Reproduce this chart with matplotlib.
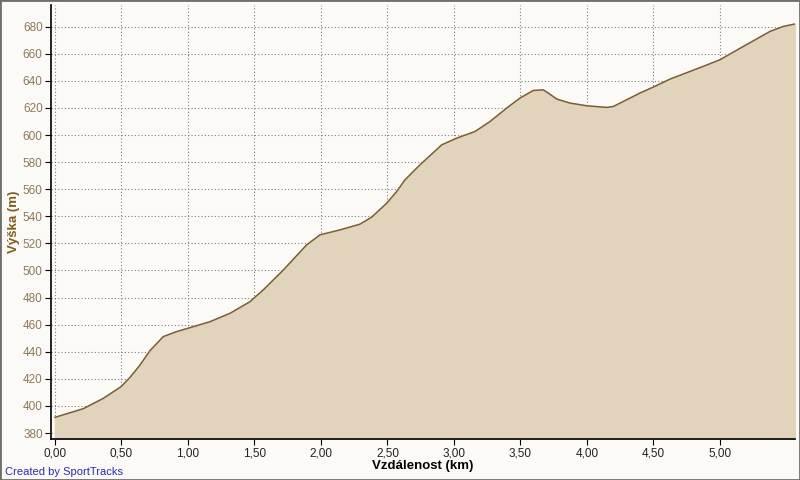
import matplotlib.pyplot as plt
import numpy as np
from matplotlib.patches import Rectangle

# elevation profile
distance_km = [0.000, 0.213, 0.363, 0.496, 0.564, 0.639, 0.714, 0.814, 0.915, 1.015,
               1.165, 1.316, 1.466, 1.566, 1.717, 1.892, 1.992, 2.143, 2.293, 2.381,
               2.494, 2.569, 2.632, 2.744, 2.908, 3.020, 3.158, 3.271, 3.396, 3.496,
               3.596, 3.671, 3.709, 3.772, 3.872, 3.998, 4.148, 4.198, 4.273, 4.398,
               4.498, 4.624, 4.874, 5.000, 5.175, 5.376, 5.476, 5.564]
elevation_m = [391.6, 398.0, 405.6, 414.2, 421.1, 430.2, 440.8, 451.2, 454.9, 457.8,
               462.2, 468.4, 477.0, 485.7, 500.4, 518.9, 526.3, 530.0, 534.2, 539.4,
               549.7, 558.3, 567.0, 578.0, 592.8, 597.7, 602.6, 610.0, 619.9, 627.3,
               632.9, 633.4, 631.0, 626.6, 623.6, 621.6, 620.4, 621.1, 624.8, 631.0,
               635.4, 641.3, 650.7, 655.6, 665.4, 676.5, 680.2, 682.0]
x_ticks = [0, 0.5, 1.0, 1.5, 2.0, 2.5, 3.0, 3.5, 4.0, 4.5, 5.0]
y_ticks = list(range(380, 700, 20))

bg = '#fbfaf6'
fig = plt.figure(figsize=(8, 4.8), dpi=100, facecolor=bg)
ax = fig.add_axes([51/800, 1 - 439/480, (795 - 51)/800, (439 - 5)/480])
ax.set_facecolor(bg)

ax.fill_between(distance_km, elevation_m, 370, color='#e2d3bc', zorder=2)
ax.plot(distance_km, elevation_m, color='#7a5e36', lw=1.1, zorder=3)

ax.set_xlim(-0.03, 5.564)
ax.set_ylim(375.6, 696)
ax.set_xticks(x_ticks)
ax.set_xticklabels(['%.2f' % t for t in x_ticks])
ax.set_xticklabels([l.get_text().replace('.', ',') for l in ax.get_xticklabels()])
ax.set_yticks(y_ticks)

ax.grid(True, color='#7f7f7f', linestyle=(0, (1, 2)), lw=0.8, zorder=4)
for s in ['top', 'right']:
    ax.spines[s].set_visible(False)
for s in ['left', 'bottom']:
    ax.spines[s].set_linewidth(1.2)
    ax.spines[s].set_zorder(5)

ax.tick_params(axis='y', colors='black', labelcolor='#8c7a5a', labelsize=8.5, length=4, pad=2)
ax.tick_params(axis='x', colors='black', labelcolor='#222222', labelsize=8.5, length=4, pad=2)
for l in ax.get_xticklabels() + ax.get_yticklabels():
    l.set_family('Liberation Sans')

fig.text(14/800, 1 - 222/480, 'Výška (m)', rotation=90, ha='center', va='center',
         fontsize=9.5, fontweight='bold', color='#7f5a1e', family='Liberation Sans')
fig.text(423/800, 1 - 466/480, 'Vzdálenost (km)', ha='center', va='center',
         fontsize=9.5, fontweight='bold', color='black', family='Liberation Sans')
fig.text(5/800, 1 - 472/480, 'Created by SportTracks', ha='left', va='center',
         fontsize=8, color='#2a2ab4', family='Liberation Sans')

fig.patches.append(Rectangle((0, 0), 1, 1, transform=fig.transFigure, fill=False,
                             edgecolor='#6e6e6e', lw=2))

plt.savefig('out.png', dpi=100, facecolor=bg)
